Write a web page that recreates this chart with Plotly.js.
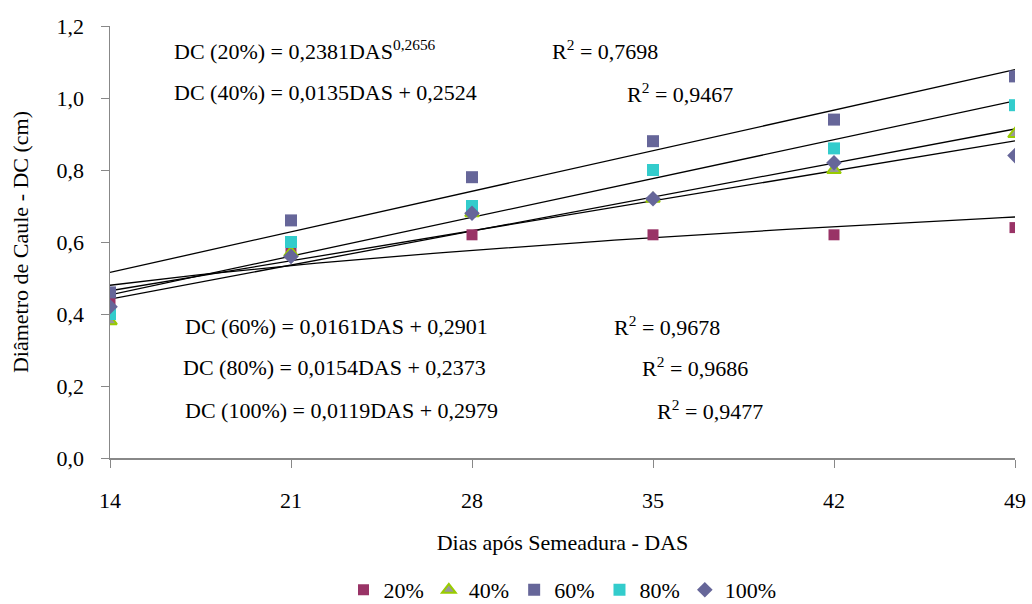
<!DOCTYPE html>
<html>
<head>
<meta charset="utf-8">
<script src="https://cdn.plot.ly/plotly-3.0.1.min.js"></script>
<style>
html,body{margin:0;padding:0;background:#fff;}
#chart text, #chart tspan { font-family: 'Liberation Serif', 'Times New Roman', serif !important; }
</style>
</head>
<body>
<div id="chart" style="width:1032px;height:604px"></div>
<script>
// Data
const das = [14, 21, 28, 35, 42, 49];
const seriesNames = ["20%", "40%", "60%", "80%", "100%"];
const dc20 = [0.44, 0.57, 0.62, 0.62, 0.62, 0.64];
const dc40 = [0.38, 0.57, 0.68, 0.72, 0.80, 0.90];
const dc60 = [0.46, 0.66, 0.78, 0.88, 0.94, 1.06];
const dc80 = [0.40, 0.60, 0.70, 0.80, 0.86, 0.98];
const dc100 = [0.42, 0.56, 0.68, 0.72, 0.82, 0.84];
const yTickVals = [0, 0.2, 0.4, 0.6, 0.8, 1.0, 1.2];
const yTickText = ["0,0", "0,2", "0,4", "0,6", "0,8", "1,0", "1,2"];

// Trend line coefficients (from the equations in the chart)
const pow20 = [0.2381, 0.2656];        // a * DAS^b
const lin40 = [0.0135, 0.2524];        // slope, intercept
const lin60 = [0.0161, 0.2901];
const lin80 = [0.0154, 0.2373];
const lin100 = [0.0119, 0.2979];

const SERIF = "Liberation Serif";
function f(size) { return {family: SERIF, size: size, color: "#000"}; }

function linLine(c) {
  const xs = [das[0], das[das.length - 1]];
  return {x: xs, y: xs.map(v => c[0] * v + c[1]), mode: "lines", line: {color: "#000", width: 1.3}, showlegend: false, hoverinfo: "skip", type: "scatter"};
}
function powLine(c) {
  const xs = [];
  for (let v = das[0]; v <= das[das.length - 1] + 1e-9; v += 0.5) xs.push(v);
  return {x: xs, y: xs.map(v => c[0] * Math.pow(v, c[1])), mode: "lines", line: {color: "#000", width: 1.3}, showlegend: false, hoverinfo: "skip", type: "scatter"};
}

const traces = [
  powLine(pow20), linLine(lin40), linLine(lin60), linLine(lin80), linLine(lin100),
  {x: das, y: dc20, name: seriesNames[0], mode: "markers", type: "scatter",
   marker: {symbol: "square", size: 11, color: "#993366"}},
  {x: das, y: dc40, name: seriesNames[1], mode: "markers", type: "scatter",
   marker: {symbol: "triangle-up", size: 12, color: "#999999", line: {color: "#99CC00", width: 2}}},
  {x: das, y: dc60, name: seriesNames[2], mode: "markers", type: "scatter",
   marker: {symbol: "square", size: 12, color: "#666699"}},
  {x: das, y: dc80, name: seriesNames[3], mode: "markers", type: "scatter",
   marker: {symbol: "square", size: 12, color: "#33CCCC"}},
  {x: das, y: dc100, name: seriesNames[4], mode: "markers", type: "scatter",
   marker: {symbol: "diamond", size: 12, color: "#666699"}}
];

function ann(text, x, y) {
  return {text: text, x: x, y: y, xref: "paper", yref: "paper", xanchor: "left", yanchor: "middle",
          showarrow: false, font: f(22)};
}
// paper coords: plot x from 110 to 1015 (905px), y from 458 to 26 (432px)
function px(xp) { return (xp - 110) / 905; }
function py(yp) { return (458 - yp) / 432; }

const annotations = [
  ann("DC (20%) = 0,2381DAS<sup>0,2656</sup>", px(172), py(50)),
  ann("R<sup>2</sup> = 0,7698", px(550), py(50)),
  ann("DC (40%) = 0,0135DAS + 0,2524", px(172), py(93)),
  ann("R<sup>2</sup> = 0,9467", px(625), py(93)),
  ann("DC (60%) = 0,0161DAS + 0,2901", px(183), py(326)),
  ann("R<sup>2</sup> = 0,9678", px(612), py(326)),
  ann("DC (80%) = 0,0154DAS + 0,2373", px(181), py(367)),
  ann("R<sup>2</sup> = 0,9686", px(640), py(367)),
  ann("DC (100%) = 0,0119DAS + 0,2979", px(183), py(410)),
  ann("R<sup>2</sup> = 0,9477", px(655), py(410))
];

const layout = {
  width: 1032, height: 604,
  margin: {l: 110, r: 17, t: 26, b: 146, autoexpand: false},
  paper_bgcolor: "#fff", plot_bgcolor: "#fff",
  xaxis: {
    range: [14, 49], tickvals: das, ticktext: das.map(String),
    showgrid: false, zeroline: false, showline: true, linecolor: "#888", linewidth: 1.5,
    ticks: "outside", ticklen: 8, tickcolor: "#888", ticklabelstandoff: 14,
    tickfont: f(22),
    title: {text: "Dias após Semeadura - DAS", font: f(22), standoff: 22}
  },
  yaxis: {
    range: [0, 1.2], tickvals: yTickVals, ticktext: yTickText,
    showgrid: false, zeroline: false, showline: true, linecolor: "#888", linewidth: 1.5,
    ticks: "outside", ticklen: 8, tickcolor: "#888", ticklabelstandoff: 12,
    tickfont: f(22),
    title: {text: "Diâmetro de Caule - DC (cm)", font: f(22), standoff: 22}
  },
  legend: {orientation: "h", x: 0.5, xanchor: "center", y: py(590), yanchor: "middle",
           font: f(22), traceorder: "normal"},
  annotations: annotations,
  showlegend: true
};

Plotly.newPlot("chart", traces, layout, {staticPlot: true});
</script>
</body>
</html>
